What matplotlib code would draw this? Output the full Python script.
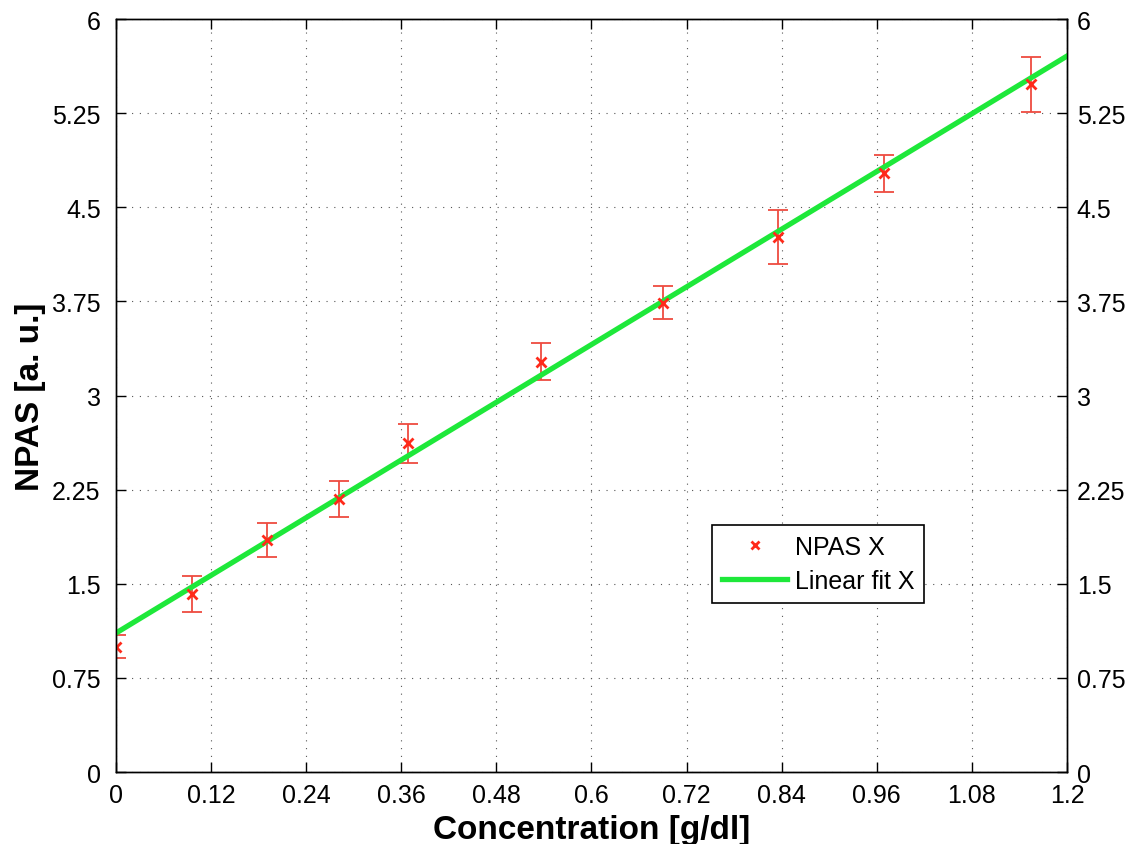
import numpy as np
import matplotlib.pyplot as plt

plt.rcParams['font.family'] = ['Liberation Sans', 'DejaVu Sans']

# Measured NPAS values with error bars
concentration = [0.0, 0.096, 0.191, 0.282, 0.369, 0.536, 0.690, 0.835, 0.969, 1.155]
npas = [1.00, 1.42, 1.85, 2.175, 2.62, 3.27, 3.74, 4.26, 4.77, 5.48]
npas_err = [0.09, 0.145, 0.135, 0.14, 0.155, 0.15, 0.13, 0.215, 0.145, 0.22]

# Linear fit endpoints
fit_x = [0.0, 1.2]
fit_y = [1.107, 5.705]

x_ticks = [0, 0.12, 0.24, 0.36, 0.48, 0.6, 0.72, 0.84, 0.96, 1.08, 1.2]
x_labels = ['0', '0.12', '0.24', '0.36', '0.48', '0.6', '0.72', '0.84', '0.96', '1.08', '1.2']
y_ticks = [0, 0.75, 1.5, 2.25, 3, 3.75, 4.5, 5.25, 6]
y_labels = ['0', '0.75', '1.5', '2.25', '3', '3.75', '4.5', '5.25', '6']

fig = plt.figure(figsize=(11.29, 8.45), dpi=100)
ax = fig.add_axes([0.1027, 0.0852, 0.8424, 0.8911])

ax.errorbar(concentration, npas, yerr=npas_err, fmt='none', ecolor='#ee4b40',
            elinewidth=1.3, capsize=7, capthick=1.3, zorder=2)
ax.plot(fit_x, fit_y, color='#1ee83a', linewidth=3.8, label='Linear fit X', zorder=3)
ax.plot(concentration, npas, 'x', color='#ff2a1a', markersize=7, markeredgewidth=2,
        label='NPAS X', zorder=4)

ax.set_xlim(0, 1.2)
ax.set_ylim(0, 6)
ax.set_xticks(x_ticks)
ax.set_xticklabels(x_labels)
ax.set_yticks(y_ticks)
ax.set_yticklabels(y_labels)
ax.tick_params(direction='in', top=True, right=True, labelsize=18, length=7, width=1)
ax.tick_params(axis='x', pad=8)
ax.tick_params(axis='y', pad=11)
ax.grid(True, linestyle=(0, (1, 6)), color='#555555', linewidth=0.8)

# right-hand tick labels (closer to the axis than on the left)
ax_r = ax.twinx()
ax_r.set_ylim(0, 6)
ax_r.set_yticks(y_ticks)
ax_r.set_yticklabels(y_labels)
ax_r.tick_params(direction='in', labelsize=18, length=7, width=1, pad=7)

for a in (ax, ax_r):
    for s in a.spines.values():
        s.set_linewidth(1.0)

ax.set_xlabel('Concentration [g/dl]', fontsize=24, fontweight='bold', labelpad=5)
ax.set_ylabel('NPAS [a. u.]', fontsize=24, fontweight='bold', labelpad=4)

handles, labels = ax.get_legend_handles_labels()
leg = ax_r.legend(handles[::-1], labels[::-1], loc='upper left',
                  bbox_to_anchor=(0.627, 0.328), fontsize=18, fancybox=False,
                  edgecolor='black', framealpha=1, handlelength=2.6,
                  handletextpad=0.3, borderpad=0.4, labelspacing=0.4,
                  borderaxespad=0)
leg.get_frame().set_linewidth(1.2)
leg.legend_handles[0].set_markersize(6)

fig.savefig('out.png', dpi=100)
